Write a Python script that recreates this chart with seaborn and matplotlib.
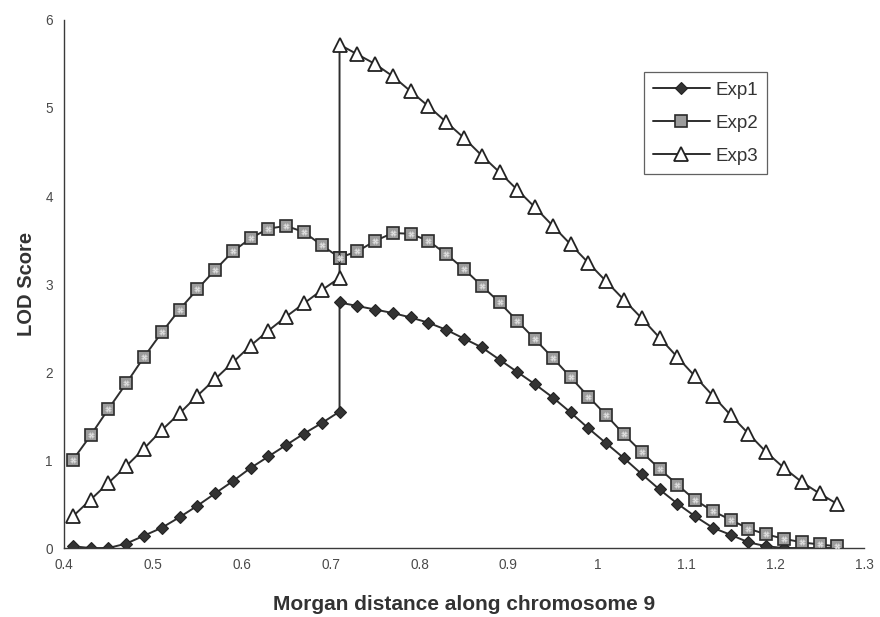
import matplotlib
matplotlib.use("Agg")
import matplotlib.pyplot as plt
import seaborn as sns
import pandas as pd

# Map position (Morgans); 0.71 appears twice: end of the first segment, start of the second
distance = [0.41, 0.43, 0.45, 0.47, 0.49, 0.51, 0.53, 0.55, 0.57, 0.59,
            0.61, 0.63, 0.65, 0.67, 0.69, 0.71,
            0.71, 0.73, 0.75, 0.77, 0.79, 0.81, 0.83, 0.85, 0.87, 0.89,
            0.91, 0.93, 0.95, 0.97, 0.99, 1.01, 1.03, 1.05, 1.07, 1.09,
            1.11, 1.13, 1.15, 1.17, 1.19, 1.21, 1.23, 1.25, 1.27]

exp1 = [0.02, 0.00, 0.00, 0.05, 0.14, 0.23, 0.35, 0.48, 0.62, 0.76,
        0.91, 1.04, 1.17, 1.30, 1.42, 1.55,
        2.79, 2.75, 2.71, 2.67, 2.62, 2.56, 2.48, 2.38, 2.28, 2.14,
        2.00, 1.86, 1.71, 1.54, 1.36, 1.19, 1.02, 0.84, 0.665, 0.505,
        0.36, 0.23, 0.15, 0.065, 0.02, 0.00, 0.00, 0.00, 0.00]

exp2 = [1.00, 1.28, 1.58, 1.87, 2.17, 2.45, 2.71, 2.94, 3.16, 3.37,
        3.52, 3.63, 3.66, 3.59, 3.44, 3.30,
        3.30, 3.37, 3.49, 3.58, 3.57, 3.49, 3.34, 3.17, 2.98, 2.79,
        2.58, 2.37, 2.16, 1.94, 1.72, 1.51, 1.29, 1.09, 0.90, 0.72,
        0.545, 0.42, 0.32, 0.22, 0.155, 0.105, 0.065, 0.04, 0.02]

exp3 = [0.36, 0.55, 0.74, 0.93, 1.13, 1.34, 1.53, 1.73, 1.92, 2.11,
        2.30, 2.47, 2.63, 2.78, 2.93, 3.07,
        5.72, 5.61, 5.50, 5.36, 5.19, 5.02, 4.84, 4.66, 4.46, 4.27,
        4.07, 3.87, 3.66, 3.45, 3.24, 3.03, 2.82, 2.61, 2.39, 2.17,
        1.95, 1.73, 1.51, 1.30, 1.09, 0.91, 0.75, 0.62, 0.50]

series_names = ["Exp1", "Exp2", "Exp3"]
x_ticks = [0.4, 0.5, 0.6, 0.7, 0.8, 0.9, 1.0, 1.1, 1.2, 1.3]
x_tick_labels = ["0.4", "0.5", "0.6", "0.7", "0.8", "0.9", "1", "1.1", "1.2", "1.3"]
y_ticks = [0, 1, 2, 3, 4, 5, 6]

df = pd.DataFrame({"distance": distance, "Exp1": exp1, "Exp2": exp2, "Exp3": exp3})

sns.set_style("white")
plt.rcParams["font.family"] = ["Liberation Sans", "DejaVu Sans"]

fig = plt.figure(figsize=(8.8, 6.17), dpi=100)
ax = fig.add_axes([0.0727, 0.1118, 0.9091, 0.8558])

line_col = "#2e2e2e"
styles = {
    "Exp1": dict(marker="D", markersize=5.8, markerfacecolor="#333333",
                 markeredgecolor="#222222", markeredgewidth=0.8),
    "Exp2": dict(marker="s", markersize=8.6, markerfacecolor="#9c9c9c",
                 markeredgecolor="#2a2a2a", markeredgewidth=1.2),
    "Exp3": dict(marker="^", markersize=9.5, markerfacecolor="white",
                 markeredgecolor="#222222", markeredgewidth=1.3),
}

for name in series_names:
    sns.lineplot(data=df, x="distance", y=name, ax=ax, estimator=None,
                 sort=False, color=line_col, linewidth=1.4, label=name,
                 **styles[name])

# light inner pattern of the Exp2 squares
ax.plot(df["distance"], df["Exp2"], linestyle="none", marker="X",
        markersize=4.2, markerfacecolor="#e2e2e2", markeredgecolor="#bdbdbd",
        markeredgewidth=0.4, zorder=5)

ax.set_xlim(0.4, 1.3)
ax.set_ylim(0, 6)
ax.set_xticks(x_ticks)
ax.set_xticklabels(x_tick_labels)
ax.set_yticks(y_ticks)
ax.set_yticklabels([str(v) for v in y_ticks])

for side in ("top", "right"):
    ax.spines[side].set_visible(False)
for side in ("left", "bottom"):
    ax.spines[side].set_color("#3a3a3a")
    ax.spines[side].set_linewidth(1.0)

ax.tick_params(axis="both", colors="#3a3a3a", labelcolor="#4a4a4a",
               labelsize=9.8, length=3, width=0.8)
ax.tick_params(axis="x", direction="inout", pad=6)
ax.tick_params(axis="y", direction="out", pad=5)

ax.set_xlabel("Morgan distance along chromosome 9", fontsize=15,
              fontweight="bold", color="#333333", labelpad=16)
ax.set_ylabel("LOD Score", fontsize=14.5, fontweight="bold",
              color="#333333", labelpad=7)

leg = ax.legend(loc="upper left", bbox_to_anchor=(0.725, 0.9015),
                frameon=True, fancybox=False, fontsize=13.5, handlelength=3.0,
                handletextpad=0.3, borderpad=0.5, labelspacing=0.85,
                borderaxespad=0.0)
leg.get_frame().set_edgecolor("#3a3a3a")
leg.get_frame().set_linewidth(0.9)
for t in leg.get_texts():
    t.set_color("#333333")

fig.savefig("out.png", dpi=100, facecolor="white")
